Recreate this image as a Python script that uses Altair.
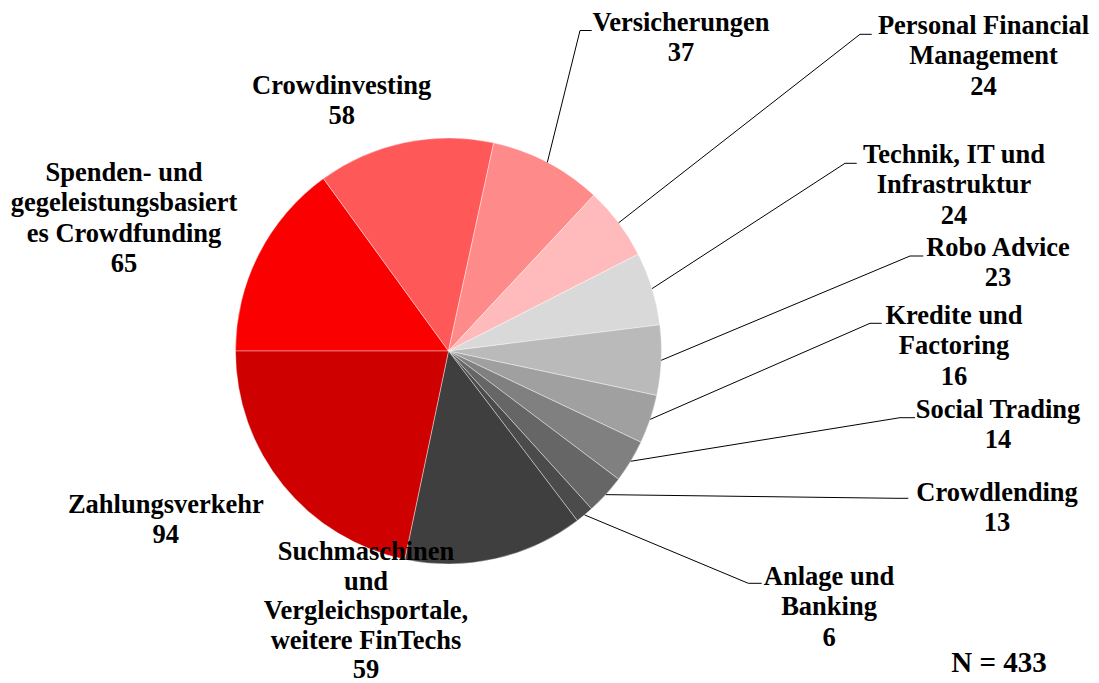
import math
import altair as alt
import pandas as pd

# ---- data (clockwise order, starting at 9 o'clock) ----
categories = [
    "Spenden- und gegeleistungsbasiertes Crowdfunding",
    "Crowdinvesting",
    "Versicherungen",
    "Personal Financial Management",
    "Technik, IT und Infrastruktur",
    "Robo Advice",
    "Kredite und Factoring",
    "Social Trading",
    "Crowdlending",
    "Anlage und Banking",
    "Suchmaschinen und Vergleichsportale, weitere FinTechs",
    "Zahlungsverkehr",
]
values = [65, 58, 37, 24, 24, 23, 16, 14, 13, 6, 59, 94]
colors = ["#FA0000", "#FF5858", "#FF8A8A", "#FFBBBB", "#D9D9D9", "#BABABA",
          "#A0A0A0", "#808080", "#666666", "#4B4B4B", "#3F3F3F", "#CE0000"]

# label text lines (as wrapped in the original)
label_lines = [
    ["Spenden- und", "gegeleistungsbasiert", "es Crowdfunding", "65"],
    ["Crowdinvesting", "58"],
    ["Versicherungen", "37"],
    ["Personal Financial", "Management", "24"],
    ["Technik, IT und", "Infrastruktur", "24"],
    ["Robo Advice", "23"],
    ["Kredite und", "Factoring", "16"],
    ["Social Trading", "14"],
    ["Crowdlending", "13"],
    ["Anlage und", "Banking", "6"],
    ["Suchmaschinen", "und", "Vergleichsportale,", "weitere FinTechs", "59"],
    ["Zahlungsverkehr", "94"],
]
note_text = "N = 433"

# ---- layout (page pixel coordinates) ----
W, H, OFF = 1083, 675, 8
CX, CY, R = 448.5, 351.0, 213.0
START_DEG = 270.0
LINE_H = [30.3, 30.3, 30.3, 30.3, 30.3, 30.3, 30.3, 30.3, 30.3, 30.3, 29.6, 30.3]
FONT = "Liberation Serif"
FS = 26.5
NOTE_FS = 29

label_x = [124, 341.7, 681, 983.5, 954, 998, 954, 998, 997, 829, 366, 165.8]
label_y = [173, 85.7, 23, 26, 155, 248, 316, 410, 493, 577, 552, 505]
note_xy = (999, 663)

# leader lines: category index -> elbow point and end of short horizontal
leader_idx = [2, 3, 4, 5, 6, 7, 8, 9]
elbow_x = [580, 860, 845, 910, 870, 900, 896, 748.3]
elbow_y = [30.5, 34.3, 163.3, 256, 323.3, 417.7, 498.3, 583.3]
tick_end_x = [591.7, 871.7, 856.7, 923.3, 881.7, 915, 908.3, 761.7]

total = sum(values)

xs = alt.Scale(domain=[OFF, OFF + W], range=[0, W], nice=False, zero=False)
ys = alt.Scale(domain=[OFF, OFF + H], range=[0, H], nice=False, zero=False)

# pie
pie_df = pd.DataFrame({"cat": categories, "value": values, "ord": list(range(len(values)))})
pie = alt.Chart(pie_df).mark_arc(outerRadius=R, stroke="#ffffff", strokeWidth=0.4).encode(
    theta=alt.Theta("value:Q", stack=True,
                    scale=alt.Scale(domain=[0, total],
                                    range=[math.radians(START_DEG), math.radians(START_DEG) + 2 * math.pi])),
    color=alt.Color("cat:N", scale=alt.Scale(domain=categories, range=colors), legend=None),
    order=alt.Order("ord:Q"),
    x=alt.value(CX - OFF),
    y=alt.value(CY - OFF),
)

# leader line segments, starting at each slice's mid-angle on the rim
cum = [0]
for v in values:
    cum.append(cum[-1] + v)
segs = []
for k, i in enumerate(leader_idx):
    mid = START_DEG + (cum[i] + values[i] / 2) / total * 360.0
    a = math.radians(mid)
    sx, sy = CX + R * math.sin(a), CY - R * math.cos(a)
    segs.append({"x": sx, "y": sy, "x2": elbow_x[k], "y2": elbow_y[k]})
    segs.append({"x": elbow_x[k], "y": elbow_y[k], "x2": tick_end_x[k], "y2": elbow_y[k]})
seg_df = pd.DataFrame(segs)
rules = alt.Chart(seg_df).mark_rule(color="#000000", strokeWidth=1).encode(
    x=alt.X("x:Q", scale=xs, axis=None),
    y=alt.Y("y:Q", scale=ys, axis=None),
    x2="x2:Q",
    y2="y2:Q",
)

# label texts
rows = []
for i, lines in enumerate(label_lines):
    for j, t in enumerate(lines):
        rows.append({"t": t, "x": label_x[i], "y": label_y[i] + j * LINE_H[i]})
txt_df = pd.DataFrame(rows)
texts = alt.Chart(txt_df).mark_text(
    font=FONT, fontSize=FS, fontWeight="bold", align="center", baseline="middle", color="#000000"
).encode(
    x=alt.X("x:Q", scale=xs, axis=None),
    y=alt.Y("y:Q", scale=ys, axis=None),
    text="t:N",
)

note_df = pd.DataFrame({"t": [note_text], "x": [note_xy[0]], "y": [note_xy[1]]})
note = alt.Chart(note_df).mark_text(
    font=FONT, fontSize=NOTE_FS, fontWeight="bold", align="center", baseline="middle", color="#000000"
).encode(
    x=alt.X("x:Q", scale=xs, axis=None),
    y=alt.Y("y:Q", scale=ys, axis=None),
    text="t:N",
)

chart = alt.layer(pie, rules, texts, note).properties(
    width=W, height=H, padding=0, autosize=alt.AutoSizeParams(type="none"),
    background="#ffffff",
).configure_view(strokeWidth=0)

chart.save("out.html", embed_options={"renderer": "svg", "actions": False})
